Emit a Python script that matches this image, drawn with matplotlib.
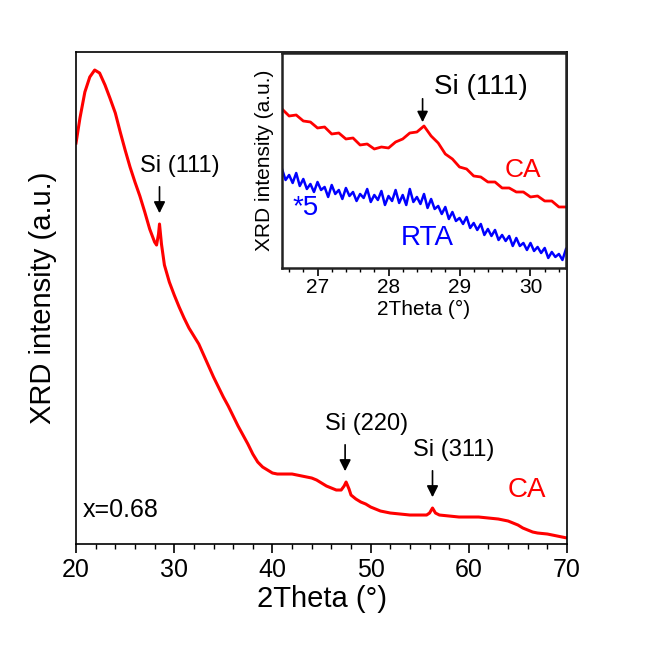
import numpy as np
import matplotlib.pyplot as plt
from matplotlib.ticker import MultipleLocator

plt.rcParams['font.family'] = ['Liberation Sans', 'DejaVu Sans']

# main pattern, CA sample (intensity in arbitrary units)
main_theta = [20.0, 20.4, 20.9, 21.4, 21.9, 22.4, 22.95, 23.45, 24.0, 24.5,
              25.0, 25.5, 26.0, 26.5, 27.0, 27.5, 28.0, 28.2, 28.4, 28.5,
              28.7, 28.9, 29.0, 29.5, 30.0, 30.5, 31.0, 31.5, 32.0, 32.5,
              33.0, 33.5, 34.0, 34.5, 35.0, 35.5, 36.0, 36.5, 37.0, 37.5,
              38.0, 38.5, 39.0, 39.5, 40.0, 40.5, 41.0, 41.5, 42.0, 42.5,
              43.0, 43.5, 44.0, 44.5, 45.0, 45.5, 46.0, 46.5, 47.0, 47.3,
              47.5, 47.8, 48.0, 48.5, 49.0, 49.5, 50.0, 50.5, 51.0, 51.5,
              52.0, 53.0, 54.0, 55.0, 55.7, 56.0, 56.3, 56.6, 57.0, 58.0,
              59.0, 60.0, 61.0, 62.0, 63.0, 64.0, 64.5, 65.0, 65.5, 66.0,
              66.5, 67.0, 68.0, 69.0, 70.0]
main_int = [401, 426, 452, 467, 474, 471, 459, 446, 431, 412,
            394, 377, 362, 348, 332, 315, 302, 299, 310, 320,
            300, 286, 279, 262, 249, 237, 226, 216, 208, 200,
            189, 178, 167, 157, 147, 138, 128, 118, 109, 100,
            90, 82, 77, 74, 71, 70, 70, 70, 70, 69,
            68, 67, 66, 64, 61, 58, 56, 54, 54, 58,
            62, 55, 49, 45, 42, 40, 37, 35, 33, 32,
            31, 30, 29, 29, 29, 31, 36, 31, 29, 28,
            27, 27, 27, 26, 25, 23, 21, 19, 16, 14,
            12, 11, 10, 8, 6]

# inset, zoom on Si (111)
ca_theta = [26.5, 26.6, 26.7, 26.8, 26.9, 27.0, 27.1, 27.2, 27.3, 27.4,
            27.5, 27.6, 27.7, 27.8, 27.9, 28.0, 28.1, 28.2, 28.3, 28.4,
            28.5, 28.6, 28.7, 28.8, 28.9, 29.0, 29.1, 29.2, 29.3, 29.4,
            29.5, 29.6, 29.7, 29.8, 29.9, 30.0, 30.1, 30.2, 30.3, 30.4, 30.5]
ca_int = [159, 152, 153, 147, 146, 140, 141, 134, 135, 129,
          130, 123, 124, 119, 121, 120, 126, 129, 135, 136,
          142, 132, 125, 114, 109, 101, 99, 92, 91, 86,
          86, 80, 80, 76, 76, 71, 72, 67, 67, 61, 61]

rta_theta = [26.50, 26.55, 26.60, 26.65, 26.70, 26.75, 26.80, 26.85, 26.90, 26.95,
             27.00, 27.05, 27.10, 27.15, 27.20, 27.25, 27.30, 27.35, 27.40, 27.45,
             27.50, 27.55, 27.60, 27.65, 27.70, 27.75, 27.80, 27.85, 27.90, 27.95,
             28.00, 28.05, 28.10, 28.15, 28.20, 28.25, 28.30, 28.35, 28.40, 28.45,
             28.50, 28.55, 28.60, 28.65, 28.70, 28.75, 28.80, 28.85, 28.90, 28.95,
             29.00, 29.05, 29.10, 29.15, 29.20, 29.25, 29.30, 29.35, 29.40, 29.45,
             29.50, 29.55, 29.60, 29.65, 29.70, 29.75, 29.80, 29.85, 29.90, 29.95,
             30.00, 30.05, 30.10, 30.15, 30.20, 30.25, 30.30, 30.35, 30.40, 30.45, 30.50]
rta_int = [99, 88, 93, 85, 95, 82, 89, 79, 84, 76,
           86, 78, 81, 71, 83, 74, 78, 69, 80, 72,
           76, 67, 74, 70, 79, 66, 73, 68, 77, 63,
           72, 67, 78, 65, 73, 63, 79, 66, 71, 64,
           74, 60, 69, 59, 62, 54, 61, 49, 56, 47,
           50, 44, 51, 40, 45, 38, 44, 33, 39, 32,
           38, 28, 33, 27, 32, 22, 30, 22, 25, 18,
           25, 17, 21, 15, 20, 10, 16, 11, 14, 8, 19]

peaks_main = [("Si (111)", 28.5, 320), ("Si (220)", 47.4, 62), ("Si (311)", 56.3, 36)]

RED = '#ff0000'
BLUE = '#0000ff'

fig = plt.figure(figsize=(6.56, 6.56), dpi=100)
ax = fig.add_axes([0.1159, 0.1707, 0.7485, 0.75])
ax.plot(main_theta, main_int, color=RED, lw=2.2)
ax.set_xlim(20, 70)
ax.set_ylim(0, 492)
ax.set_yticks([])
ax.xaxis.set_major_locator(MultipleLocator(10))
ax.xaxis.set_minor_locator(MultipleLocator(2))
ax.tick_params(axis='x', which='major', direction='out', length=6.5, width=1.2, labelsize=18)
ax.tick_params(axis='x', which='minor', direction='out', length=3.5, width=1.0)
for s in ax.spines.values():
    s.set_linewidth(1.2)
ax.set_xlabel('2Theta (°)', fontsize=21, labelpad=2)
ax.set_ylabel('XRD intensity (a.u.)', fontsize=21, labelpad=14)

for label, x, y in peaks_main:
    ax.annotate('', xy=(x, y + 8), xytext=(x, y + 40),
                arrowprops=dict(arrowstyle='-|>', color='black', lw=1.2, mutation_scale=17))
    ax.text(x - 2.0, y + 47, label, fontsize=17, ha='left', va='bottom')

ax.text(0.014, 0.069, 'x=0.68', transform=ax.transAxes, fontsize=18, ha='left', va='center')
ax.text(65.9, 54, 'CA', color=RED, fontsize=20, ha='center', va='center')

# inset
axi = fig.add_axes([0.4299, 0.5915, 0.4329, 0.3277])
axi.plot(ca_theta, ca_int, color=RED, lw=2)
axi.plot(rta_theta, rta_int, color=BLUE, lw=1.8)
axi.set_xlim(26.5, 30.5)
axi.set_ylim(0, 215)
axi.set_yticks([])
axi.xaxis.set_major_locator(MultipleLocator(1))
axi.xaxis.set_minor_locator(MultipleLocator(0.2))
axi.tick_params(axis='x', which='major', direction='out', length=5.5, width=1.2, labelsize=15, pad=2)
axi.tick_params(axis='x', which='minor', direction='out', length=3, width=1.0)
for s in axi.spines.values():
    s.set_linewidth(1.8)
    s.set_color('#222222')
axi.set_xlabel('2Theta (°)', fontsize=15, labelpad=2)
axi.set_ylabel('XRD intensity (a.u.)', fontsize=15, labelpad=6)

axi.annotate('', xy=(28.48, 143), xytext=(28.48, 172),
             arrowprops=dict(arrowstyle='-|>', color='black', lw=1.2, mutation_scale=16))
axi.text(29.3, 181, 'Si (111)', fontsize=20, ha='center', va='center')
axi.text(29.9, 98, 'CA', color=RED, fontsize=19, ha='center', va='center')
axi.text(26.83, 60, '*5', color=BLUE, fontsize=20, ha='center', va='center')
axi.text(28.55, 30, 'RTA', color=BLUE, fontsize=20, ha='center', va='center')

fig.savefig('out.png', dpi=100)
